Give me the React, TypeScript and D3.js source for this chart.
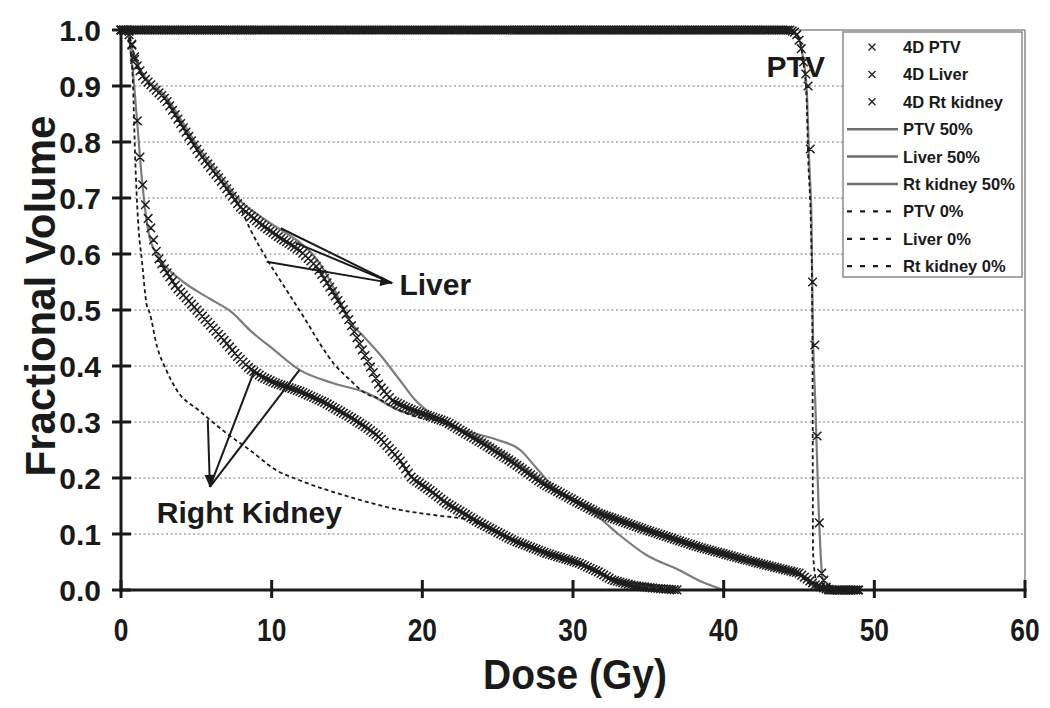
import React from "react";
import * as d3 from "d3";

type Pt = [number, number];

const doseTicks = [0, 10, 20, 30, 40, 50, 60];
const volumeTicks = [0, 0.1, 0.2, 0.3, 0.4, 0.5, 0.6, 0.7, 0.8, 0.9, 1.0];
const gridVolumes = [0.1, 0.2, 0.3, 0.4, 0.5, 0.6, 0.7, 0.8, 0.9];

// 4D (marker) series: [dose Gy, fractional volume]
const ptv4D: Pt[] = [
  [0, 1], [44.4, 1], [44.8, 0.995], [45.1, 0.975], [45.25, 0.95], [45.6, 0.9], [45.8, 0.75],
  [45.9, 0.55], [46.1, 0.4], [46.3, 0.15], [46.5, 0.03], [46.8, 0.005], [47, 0], [49, 0],
];
const liver4D: Pt[] = [
  [0, 1], [0.46, 1], [0.75, 0.97], [1.0, 0.94], [1.5, 0.915], [3.0, 0.875], [4.1, 0.827],
  [5.2, 0.78], [6.6, 0.732], [7.9, 0.684], [9.2, 0.655], [10.5, 0.63], [11.85, 0.607],
  [13.0, 0.577], [14.0, 0.535], [15.0, 0.49], [16.0, 0.43], [17.15, 0.365], [18.0, 0.338],
  [19.0, 0.325], [20.0, 0.315], [21.6, 0.3], [24, 0.262], [26, 0.228], [28, 0.19],
  [30.4, 0.155], [31.7, 0.137], [34.9, 0.107], [38.3, 0.077], [42, 0.05], [45, 0.03],
  [46.1, 0.009], [47, 0], [49, 0],
];
const kidney4D: Pt[] = [
  [0, 1], [0.45, 1], [0.6, 0.996], [0.73, 0.973], [0.93, 0.943], [1.06, 0.845], [1.26, 0.773],
  [1.46, 0.718], [1.7, 0.673], [2.05, 0.64], [2.25, 0.613], [2.45, 0.595], [2.8, 0.577],
  [3.7, 0.54], [5.2, 0.495], [6.8, 0.447], [7.7, 0.418], [8.55, 0.395], [9.4, 0.38],
  [10.2, 0.37], [11.85, 0.355], [13.5, 0.335], [15.2, 0.309], [16.3, 0.29], [17.15, 0.273],
  [18.5, 0.232], [19.3, 0.2], [20.5, 0.178], [21.6, 0.155], [23.8, 0.12], [26, 0.089],
  [28.2, 0.066], [30.4, 0.048], [31.7, 0.032], [32.6, 0.018], [34, 0.008], [35.5, 0.003],
  [37, 0],
];

// 50% phase (solid grey) series
const ptv50: Pt[] = [
  [0, 1], [44.3, 1], [44.8, 0.993], [45.1, 0.975], [45.3, 0.945], [45.5, 0.9], [45.7, 0.75],
  [45.83, 0.66], [45.9, 0.5], [46.1, 0.32], [46.3, 0.148], [46.55, 0.023], [46.8, 0], [48, 0],
];
const liver50: Pt[] = [
  [0, 1], [0.4, 1], [0.7, 0.97], [1.0, 0.945], [1.5, 0.92], [3.0, 0.88], [4.1, 0.835],
  [5.2, 0.788], [6.6, 0.74], [7.9, 0.695], [9.2, 0.668], [10.5, 0.645], [11.8, 0.622],
  [12.7, 0.6], [13.5, 0.57], [14.1, 0.54], [15.2, 0.48], [16.2, 0.45], [17.2, 0.42],
  [18.5, 0.375], [19.5, 0.34], [20.5, 0.316], [21.6, 0.295], [23, 0.283], [25, 0.268],
  [26.5, 0.25], [27.5, 0.22], [28.7, 0.184], [30, 0.16], [31.7, 0.13], [33, 0.1],
  [34.9, 0.062], [37.1, 0.035], [38.5, 0.015], [40, 0],
];
const kidney50: Pt[] = [
  [0, 1], [0.4, 1], [0.7, 0.95], [1.06, 0.84], [1.4, 0.73], [1.9, 0.63], [2.7, 0.587],
  [3.9, 0.555], [5.9, 0.52], [7.4, 0.495], [8.55, 0.464], [10.1, 0.43], [11.85, 0.393],
  [14.0, 0.37], [16.3, 0.352], [18.5, 0.32], [20.5, 0.308], [22, 0.29], [24, 0.268],
  [26, 0.234], [28, 0.195], [30.4, 0.158], [32, 0.14], [34.9, 0.11], [38.3, 0.08],
  [42, 0.052], [44, 0.038], [45, 0.028], [45.8, 0.01], [46.3, 0],
];

// 0% phase (dashed) series
const ptv0: Pt[] = [
  [0, 1], [44.3, 1], [44.8, 0.993], [45.1, 0.975], [45.3, 0.94], [45.5, 0.88], [45.6, 0.78],
  [45.8, 0.64], [45.87, 0.536], [45.9, 0.39], [45.93, 0.07], [46.1, 0.02], [46.3, 0],
];
const liver0: Pt[] = [
  [0, 1], [0.4, 1], [0.75, 0.97], [1.0, 0.94], [1.5, 0.915], [3.0, 0.875], [4.1, 0.827],
  [5.2, 0.78], [6.6, 0.732], [7.9, 0.684], [8.6, 0.643], [9.7, 0.59], [11.0, 0.535],
  [12.3, 0.48], [13.2, 0.44], [14.1, 0.405], [15.2, 0.375], [16.3, 0.35], [17.0, 0.343],
  [18.0, 0.327], [19.5, 0.31], [21.6, 0.298], [24, 0.262], [26, 0.228], [28, 0.188],
  [30.4, 0.153], [31.7, 0.135], [34.9, 0.105], [38.3, 0.075], [42, 0.048], [45, 0.026],
  [46, 0.006], [46.8, 0],
];
const kidney0: Pt[] = [
  [0, 1], [0.4, 1], [0.6, 0.97], [0.8, 0.9], [0.93, 0.78], [1.13, 0.66], [1.4, 0.585],
  [1.7, 0.51], [1.9, 0.495], [2.4, 0.434], [3.0, 0.393], [3.7, 0.357], [5.2, 0.32],
  [5.9, 0.304], [7.0, 0.28], [8.55, 0.25], [10.3, 0.214], [11.85, 0.196], [15.2, 0.166],
  [18.5, 0.143], [21, 0.133], [23.1, 0.125], [23.8, 0.117], [26, 0.088], [28.2, 0.065],
  [30.4, 0.047], [32.6, 0.018], [34, 0.007], [36, 0],
];

const legendLabels = [
  "4D PTV", "4D Liver", "4D Rt kidney",
  "PTV 50%", "Liver 50%", "Rt kidney 50%",
  "PTV 0%", "Liver 0%", "Rt kidney 0%",
];
const legendKinds = ["marker", "marker", "marker", "solid", "solid", "solid", "dashed", "dashed", "dashed"];

const FONT = "'Liberation Sans', Arial, Helvetica, sans-serif";
const INK = "#1a1a1a";
const GREY = "#7c7c7c";

export default function App() {
  const W = 1050;
  const H = 708;
  const x = d3.scaleLinear().domain([0, 60]).range([121, 1025]);
  const y = d3.scaleLinear().domain([0, 1]).range([590, 30]);

  const line = d3
    .line<Pt>()
    .x((d) => x(d[0]))
    .y((d) => y(d[1]))
    .curve(d3.curveMonotoneX);

  const markerPath = (pts: Pt[], step: number, s: number) => {
    const interp = d3
      .scaleLinear()
      .domain(pts.map((p) => p[0]))
      .range(pts.map((p) => p[1]))
      .clamp(true);
    const end = pts[pts.length - 1][0];
    let out = "";
    for (let i = 0; i * step <= end + 1e-9; i++) {
      const d = i * step;
      const px = x(d);
      const py = y(interp(d));
      out += `M${px - s},${py - s}L${px + s},${py + s}M${px - s},${py + s}L${px + s},${py - s}`;
    }
    return out;
  };

  const solid = [ptv50, liver50, kidney50];
  const dashed = [ptv0, liver0, kidney0];
  const markerSeries: [Pt[], number][] = [
    [ptv4D, 0.15],
    [liver4D, 0.18],
    [kidney4D, 0.18],
  ];

  const liverTip: Pt = [18.0, 0.548];
  const liverFrom: Pt[] = [[10.6, 0.646], [11.6, 0.62], [9.67, 0.586]];
  const kidneyTip: Pt = [5.9, 0.184];
  const kidneyFrom: Pt[] = [[5.76, 0.304], [8.87, 0.393], [11.85, 0.393]];

  const arrowHead = (tip: Pt, from: Pt, len: number, half: number) => {
    const tx = x(tip[0]);
    const ty = y(tip[1]);
    const fx = x(from[0]);
    const fy = y(from[1]);
    const a = Math.atan2(ty - fy, tx - fx);
    const bx = tx - len * Math.cos(a);
    const by = ty - len * Math.sin(a);
    const px = -Math.sin(a) * half;
    const py = Math.cos(a) * half;
    return `M${tx},${ty}L${bx + px},${by + py}L${bx - px},${by - py}Z`;
  };

  const legendX = 843;
  const legendY = 32;
  const legendW = 179;
  const legendH = 245;
  const rowGap = 27.4;

  return (
    <svg
      width={W}
      height={H}
      style={{ position: "absolute", left: 0, top: 0, background: "#fff" }}
      fontFamily={FONT}
    >
      <rect x={0} y={0} width={W} height={H} fill="#fff" />

      {/* grid lines */}
      {gridVolumes.map((v) => (
        <line
          key={`g${v}`}
          x1={x(0)}
          x2={x(60)}
          y1={y(v)}
          y2={y(v)}
          stroke="#7a7a7a"
          strokeWidth={1.2}
          strokeDasharray="2,2.5"
        />
      ))}
      {/* plot frame (top / right) */}
      <line x1={x(0)} x2={x(60)} y1={y(1)} y2={y(1)} stroke="#8a8a8a" strokeWidth={1.5} />
      <line x1={x(60)} x2={x(60)} y1={y(1)} y2={y(0)} stroke="#8a8a8a" strokeWidth={1.5} />

      {/* solid grey 50% curves */}
      {solid.map((s, i) => (
        <path key={`s${i}`} d={line(s) || ""} fill="none" stroke={GREY} strokeWidth={2.2} />
      ))}
      {/* dashed 0% curves */}
      {dashed.map((s, i) => (
        <path
          key={`d${i}`}
          d={line(s) || ""}
          fill="none"
          stroke={INK}
          strokeWidth={1.8}
          strokeDasharray="4,3"
        />
      ))}
      {/* 4D marker curves */}
      {markerSeries.map(([s, step], i) => (
        <path
          key={`m${i}`}
          d={markerPath(s, step, 4.3)}
          fill="none"
          stroke="#1e1e1e"
          strokeWidth={1.5}
        />
      ))}

      {/* axes */}
      <line x1={x(0)} x2={x(0)} y1={y(1) - 1} y2={y(0) + 1.5} stroke={INK} strokeWidth={3} />
      <line x1={x(0) - 1.5} x2={x(60) + 1.5} y1={y(0)} y2={y(0)} stroke={INK} strokeWidth={3} />
      {volumeTicks.map((v) => (
        <g key={`yt${v}`}>
          <line x1={x(0) - 9} x2={x(0) + 10} y1={y(v)} y2={y(v)} stroke={INK} strokeWidth={3} />
          <text
            x={101}
            y={y(v) + 10.5}
            textAnchor="end"
            fontSize={30}
            fontWeight="bold"
            fill={INK}
          >
            {v.toFixed(1)}
          </text>
        </g>
      ))}
      {doseTicks.map((t) => (
        <g key={`xt${t}`}>
          <line x1={x(t)} x2={x(t)} y1={y(0) - 10} y2={y(0) + 8} stroke={INK} strokeWidth={3} />
          <text
            transform={`translate(${x(t)},641) scale(0.85,1)`}
            textAnchor="middle"
            fontSize={31}
            fontWeight="bold"
            fill={INK}
          >
            {t}
          </text>
        </g>
      ))}

      {/* axis titles */}
      <text
        transform="translate(55,296) rotate(-90)"
        textAnchor="middle"
        fontSize={42}
        fontWeight="bold"
        fill={INK}
      >
        Fractional Volume
      </text>
      <text
        x={575}
        y={689}
        textAnchor="middle"
        fontSize={43}
        fontWeight="bold"
        fill={INK}
        textLength={184}
        lengthAdjust="spacingAndGlyphs"
      >
        Dose (Gy)
      </text>

      {/* annotations */}
      <text x={x(42.85)} y={y(0.916)} fontSize={30} fontWeight="bold" fill={INK}>
        PTV
      </text>
      <text x={x(18.48)} y={y(0.527)} fontSize={30} fontWeight="bold" fill={INK}>
        Liver
      </text>
      <text x={x(2.38)} y={y(0.12)} fontSize={30} fontWeight="bold" fill={INK}>
        Right Kidney
      </text>
      {liverFrom.map((f, i) => (
        <line
          key={`la${i}`}
          x1={x(f[0])}
          y1={y(f[1])}
          x2={x(liverTip[0])}
          y2={y(liverTip[1])}
          stroke={INK}
          strokeWidth={2}
        />
      ))}
      <path d={arrowHead(liverTip, liverFrom[2], 12, 5)} fill={INK} />
      {kidneyFrom.map((f, i) => (
        <line
          key={`ka${i}`}
          x1={x(f[0])}
          y1={y(f[1])}
          x2={x(kidneyTip[0])}
          y2={y(kidneyTip[1])}
          stroke={INK}
          strokeWidth={2}
        />
      ))}
      <path d={arrowHead(kidneyTip, kidneyFrom[0], 12, 5)} fill={INK} />

      {/* legend */}
      <rect
        x={legendX}
        y={legendY}
        width={legendW}
        height={legendH}
        fill="#fff"
        stroke="#8a8a8a"
        strokeWidth={1.5}
      />
      {legendLabels.map((lab, i) => {
        const cy = legendY + 15 + i * rowGap;
        const kind = legendKinds[i];
        return (
          <g key={`lg${i}`}>
            {kind === "marker" && (
              <path
                d={`M${872 - 3.5},${cy - 3.5}L${872 + 3.5},${cy + 3.5}M${872 - 3.5},${cy + 3.5}L${872 + 3.5},${cy - 3.5}`}
                stroke="#222"
                strokeWidth={1.4}
              />
            )}
            {kind === "solid" && (
              <line x1={847} x2={898} y1={cy} y2={cy} stroke="#6e6e6e" strokeWidth={2.5} />
            )}
            {kind === "dashed" && (
              <line
                x1={847}
                x2={897}
                y1={cy}
                y2={cy}
                stroke={INK}
                strokeWidth={2.2}
                strokeDasharray="5,8"
              />
            )}
            <text x={903} y={cy + 6} fontSize={16.5} fontWeight="bold" fill={INK}>
              {lab}
            </text>
          </g>
        );
      })}
    </svg>
  );
}
